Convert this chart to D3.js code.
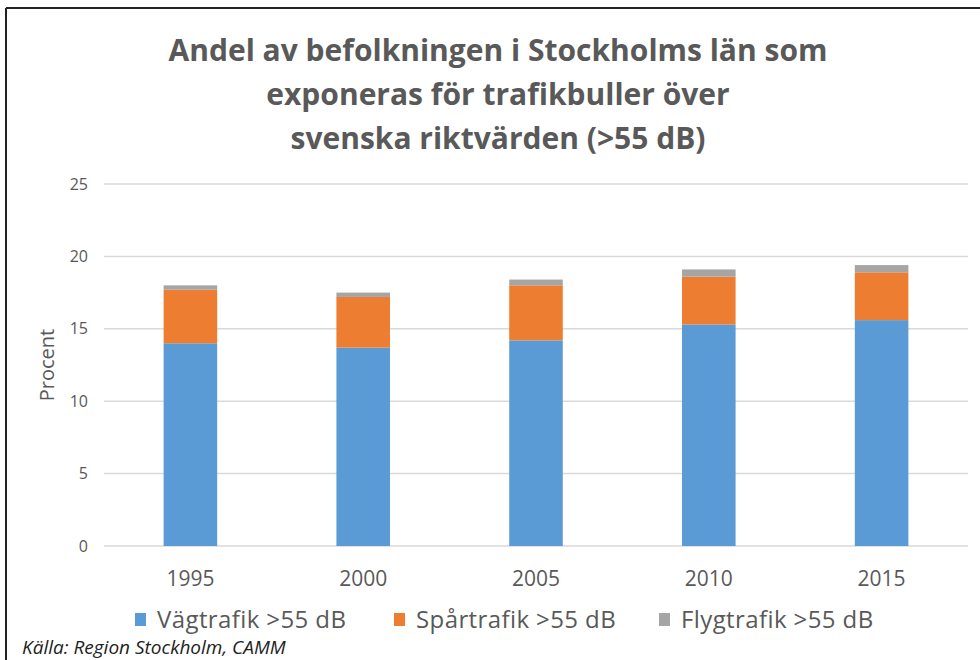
<!DOCTYPE html>
<html>
<head>
<meta charset="utf-8">
<script src="https://cdn.jsdelivr.net/npm/d3@7/dist/d3.min.js"></script>
<style>
  body { margin: 0; background: #fff; }
  text { font-family: "Open Sans", sans-serif; }
</style>
</head>
<body>
<svg id="chart" width="980" height="660"></svg>
<script>
// data
var years = ["1995", "2000", "2005", "2010", "2015"];
var vag   = [14.0, 13.7, 14.2, 15.3, 15.6];
var spar  = [3.7, 3.5, 3.8, 3.3, 3.3];
var flyg  = [0.3, 0.3, 0.4, 0.5, 0.5];
var seriesNames  = ["Vägtrafik >55 dB", "Spårtrafik >55 dB", "Flygtrafik >55 dB"];
var seriesColors = ["#5b9bd5", "#ed7d31", "#a5a5a5"];
var yTicks = [0, 5, 10, 15, 20, 25];
var titleLines = ["Andel av befolkningen i Stockholms län som",
                  "exponeras för trafikbuller över",
                  "svenska riktvärden (>55 dB)"];

var svg = d3.select("#chart");

// frame (top and left edges visible)
svg.append("line").attr("x1", 6).attr("y1", 8).attr("x2", 980).attr("y2", 8)
    .style("stroke", "#222").style("stroke-width", 2);
svg.append("line").attr("x1", 6).attr("y1", 8).attr("x2", 6).attr("y2", 660)
    .style("stroke", "#222").style("stroke-width", 2);

var x = d3.scaleBand().domain(years).range([104, 968]).paddingInner(0.69).paddingOuter(0.345);
var y = d3.scaleLinear().domain([0, 25]).range([546, 184]);

// gridlines
svg.append("g").selectAll("line").data(yTicks).join("line")
    .attr("x1", 104).attr("x2", 968)
    .attr("y1", function(d){ return y(d); }).attr("y2", function(d){ return y(d); })
    .style("stroke", "#d9d9d9").style("stroke-width", 1.5);

// y tick labels
svg.append("g").selectAll("text").data(yTicks).join("text")
    .attr("x", 88).attr("y", function(d){ return y(d); })
    .attr("dy", "0.35em").attr("text-anchor", "end")
    .style("font-size", "16px").style("fill", "#595959")
    .text(function(d){ return d; });

// stacked bars
var rows = years.map(function(yr, i){ return {year: yr, a: vag[i], b: spar[i], c: flyg[i]}; });
var stack = d3.stack().keys(["a", "b", "c"])(rows);

svg.append("g").selectAll("g").data(stack).join("g")
    .style("fill", function(d, i){ return seriesColors[i]; })
    .selectAll("rect").data(function(d){ return d; }).join("rect")
    .attr("x", function(d){ return x(d.data.year); })
    .attr("width", x.bandwidth())
    .attr("y", function(d){ return y(d[1]); })
    .attr("height", function(d){ return y(d[0]) - y(d[1]); });

// x labels
svg.append("g").selectAll("text").data(years).join("text")
    .attr("x", function(d){ return x(d) + x.bandwidth()/2; })
    .attr("y", 586).attr("text-anchor", "middle")
    .style("font-size", "21px").style("fill", "#595959")
    .text(function(d){ return d; });

// axis title
svg.append("text")
    .attr("transform", "translate(54,365) rotate(-90)")
    .attr("text-anchor", "middle")
    .style("font-size", "20px").style("fill", "#595959")
    .text("Procent");

// title
svg.append("g").selectAll("text").data(titleLines).join("text")
    .attr("x", 498).attr("y", function(d, i){ return 61 + i*44; })
    .attr("text-anchor", "middle")
    .style("font-size", "30px").style("font-weight", "bold").style("fill", "#595959")
    .text(function(d){ return d; });

// legend
var legendX = [135, 394, 659];
var leg = svg.append("g").selectAll("g").data(seriesNames).join("g")
    .attr("transform", function(d, i){ return "translate(" + legendX[i] + ",620)"; });
leg.append("rect").attr("x", 0).attr("y", -7).attr("width", 11).attr("height", 13)
    .style("fill", function(d, i){ return seriesColors[i]; });
leg.append("text").attr("x", 22).attr("y", 0).attr("dy", "0.35em")
    .style("font-size", "24px").style("letter-spacing", "0.4px").style("fill", "#595959")
    .text(function(d){ return d; });

// source
svg.append("text").attr("x", 22).attr("y", 654)
    .style("font-size", "19px").style("font-style", "italic").style("fill", "#222")
    .text("Källa: Region Stockholm, CAMM");
</script>
</body>
</html>
